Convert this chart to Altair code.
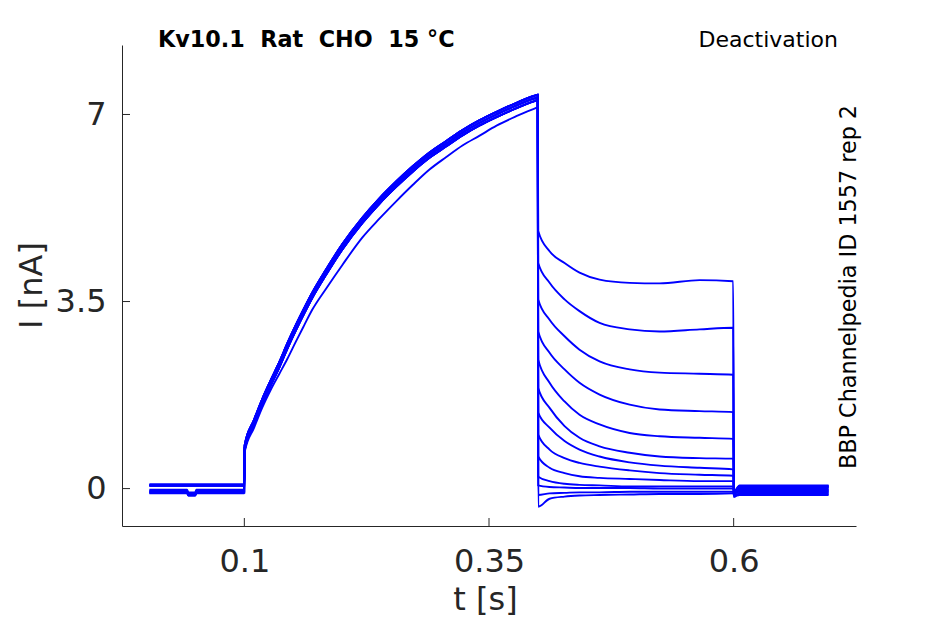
import altair as alt
import pandas as pd

# ---------------- data ----------------
trace_ids = list(range(1, 14))

# holding segment before the step (t in s, I in nA)
t_pre = [0.003, 0.0415, 0.0428, 0.0498, 0.051, 0.0999]
pre_level = [0.07, 0.05, 0.08, 0.06, 0.05, -0.02, -0.05, -0.07, -0.04, -0.08, 0.06, -0.06, -0.09]
pre_dip = [0.07, 0.05, 0.08, 0.06, 0.05, -0.07, -0.10, -0.12, -0.09, -0.13, 0.06, -0.11, -0.13]

# activation step (0.1 - 0.4 s)
t_act = [0.1003, 0.11, 0.1184, 0.127, 0.1358, 0.144, 0.1529, 0.161, 0.1695, 0.1835,
         0.2, 0.2207, 0.238, 0.2554, 0.272, 0.2892, 0.306, 0.3229, 0.34, 0.3577,
         0.377, 0.3965, 0.3998]
act_hi = [0.81, 1.29, 1.68, 2.03, 2.37, 2.72, 3.07, 3.37, 3.67, 4.10,
          4.57, 5.07, 5.43, 5.75, 6.03, 6.29, 6.50, 6.71, 6.89, 7.05,
          7.21, 7.35, 7.37]
act_mid = [0.76, 1.24, 1.63, 1.98, 2.32, 2.67, 3.02, 3.32, 3.62, 4.05,
           4.52, 5.02, 5.38, 5.70, 5.98, 6.24, 6.45, 6.66, 6.84, 7.00,
           7.16, 7.30, 7.32]
act_lo = [0.71, 1.19, 1.58, 1.93, 2.27, 2.62, 2.97, 3.27, 3.57, 4.00,
          4.47, 4.97, 5.33, 5.65, 5.93, 6.19, 6.40, 6.61, 6.79, 6.95,
          7.11, 7.25, 7.27]
act_sep = [0.68, 1.14, 1.52, 1.85, 2.15, 2.43, 2.76, 3.05, 3.35, 3.74,
           4.18, 4.70, 5.05, 5.38, 5.68, 5.97, 6.20, 6.42, 6.60, 6.79,
           6.96, 7.11, 7.13]
act_variant = ["hi", "mid", "lo", "hi", "mid", "lo", "hi", "mid", "lo", "hi", "mid", "lo", "sep"]

# deactivation tails (0.4 - 0.6 s)
t_tail = [0.4003, 0.4119, 0.4272, 0.4425, 0.463, 0.4937, 0.5243, 0.5652, 0.5995]
tail_01 = [4.82, 4.44, 4.22, 4.04, 3.91, 3.85, 3.84, 3.90, 3.88]
tail_02 = [4.22, 3.85, 3.54, 3.32, 3.10, 2.98, 2.94, 2.98, 3.01]
tail_03 = [3.54, 3.16, 2.85, 2.60, 2.38, 2.23, 2.17, 2.15, 2.13]
tail_04 = [2.94, 2.54, 2.23, 1.98, 1.76, 1.57, 1.48, 1.45, 1.43]
tail_05 = [2.41, 1.98, 1.63, 1.38, 1.20, 1.04, 0.98, 0.95, 0.93]
tail_06 = [1.88, 1.51, 1.17, 0.95, 0.79, 0.67, 0.60, 0.57, 0.56]
tail_07 = [1.42, 1.14, 0.89, 0.73, 0.60, 0.49, 0.43, 0.39, 0.36]
tail_08 = [1.01, 0.73, 0.57, 0.48, 0.41, 0.34, 0.29, 0.26, 0.24]
tail_09 = [0.60, 0.39, 0.29, 0.23, 0.20, 0.18, 0.16, 0.14, 0.14]
tail_10 = [0.22, 0.14, 0.09, 0.07, 0.06, 0.04, 0.04, 0.04, 0.04]
tail_11 = [0.06, 0.03, 0.02, 0.01, 0.01, 0.01, 0.00, 0.00, 0.00]
tail_12 = [-0.12, -0.09, -0.08, -0.07, -0.07, -0.06, -0.06, -0.06, -0.06]
tail_13 = [-0.34, -0.19, -0.15, -0.13, -0.12, -0.11, -0.10, -0.10, -0.09]
tails = [tail_01, tail_02, tail_03, tail_04, tail_05, tail_06, tail_07,
         tail_08, tail_09, tail_10, tail_11, tail_12, tail_13]

# back to holding (0.6 - 0.7 s)
t_post = [0.6003, 0.606, 0.65, 0.697]
post_spike = [-0.08, -0.10, -0.06, -0.08, -0.12, -0.08, -0.06, -0.10, -0.16, -0.08, -0.12, -0.14, -0.08]
post_level = [0.05, 0.03, 0.06, 0.02, 0.00, -0.02, 0.04, -0.05, -0.08, -0.03, -0.10, -0.12, -0.06]

x_ticks = [0.1, 0.35, 0.6]
y_ticks = [0, 3.5, 7]

NB = "\u00a0"
title_text = f"Kv10.1{NB}{NB}Rat{NB}{NB}CHO{NB}{NB}15{NB}°C"
protocol_text = "Deactivation"
source_text = "BBP Channelpedia ID 1557 rep 2"

# ---------------- assemble long table ----------------
act_map = {"hi": act_hi, "mid": act_mid, "lo": act_lo, "sep": act_sep}
rows = []
for k, tid in enumerate(trace_ids):
    lv, dp = pre_level[k], pre_dip[k]
    pre_vals = [lv, lv, dp, dp, lv, lv]
    ts = t_pre + t_act + t_tail + t_post
    vs = (pre_vals + act_map[act_variant[k]] + tails[k]
          + [post_spike[k], post_level[k], post_level[k], post_level[k]])
    for i, (tt, vv) in enumerate(zip(ts, vs)):
        rows.append({"trace": tid, "idx": i, "t": tt, "I": vv})
df = pd.DataFrame(rows)

FONT = "DejaVu Sans"
AX = "#262626"
W, H = 734, 481

x_enc = alt.X("t:Q",
              scale=alt.Scale(domain=[-0.025, 0.725], nice=False, zero=False),
              axis=alt.Axis(values=x_ticks, format=".2~f", title="t [s]", grid=False,
                            tickSize=0, labelPadding=20, labelFontSize=32,
                            labelFont=FONT, titleFont=FONT, labelColor=AX, titleColor=AX,
                            domainColor=AX, domainWidth=1,
                            titleFontSize=32, titleFontWeight="normal",
                            titleX=363, titleY=83, titleBaseline="alphabetic"))
y_enc = alt.Y("I:Q",
              scale=alt.Scale(domain=[-0.7, 8.3], nice=False, zero=False),
              axis=alt.Axis(values=y_ticks, format=".2~f", title="I [nA]", grid=False,
                            tickSize=0, labelPadding=16, labelFontSize=32,
                            labelFont=FONT, titleFont=FONT, labelColor=AX, titleColor=AX,
                            domainColor=AX, domainWidth=1,
                            titleFontSize=32, titleFontWeight="normal",
                            titleX=-91, titleY=240, titleBaseline="middle",
                            titleAlign="center", titleAngle=270))

lines = alt.Chart(df).mark_line(color="#0000ff", strokeWidth=1.9, interpolate="monotone").encode(
    x=x_enc, y=y_enc, detail="trace:N", order="idx:Q")

xt = alt.Chart(pd.DataFrame({"t": x_ticks})).mark_rule(color=AX, strokeWidth=1).encode(
    x=x_enc, y=alt.value(H), y2=alt.value(H - 8))
yt = alt.Chart(pd.DataFrame({"I": y_ticks})).mark_rule(color=AX, strokeWidth=1).encode(
    y=y_enc, x=alt.value(0), x2=alt.value(8))

t1 = alt.Chart(pd.DataFrame({"s": [title_text]})).mark_text(
    font=FONT, fontSize=22.3, fontWeight="bold", color="black", align="left",
    baseline="alphabetic").encode(text="s:N", x=alt.value(36), y=alt.value(2))
t2 = alt.Chart(pd.DataFrame({"s": [protocol_text]})).mark_text(
    font=FONT, fontSize=22, color="black", align="right",
    baseline="alphabetic").encode(text="s:N", x=alt.value(716), y=alt.value(1.5))
t3 = alt.Chart(pd.DataFrame({"s": [source_text]})).mark_text(
    font=FONT, fontSize=22.3, color="black", align="center", angle=270,
    baseline="middle").encode(text="s:N", x=alt.value(727), y=alt.value(242))

chart = alt.layer(lines, xt, yt, t1, t2, t3).properties(
    width=W, height=H,
    background="white",
    autosize=alt.AutoSizeParams(type="none"),
    padding={"left": 114, "top": 37, "right": 70, "bottom": 90},
).configure_view(strokeWidth=0, strokeOpacity=0).configure_axis(
    domainColor=AX, domainWidth=1, labelColor=AX, titleColor=AX,
    labelFont=FONT, titleFont=FONT,
)

chart.save("out.html", embed_options={"renderer": "svg", "actions": False})
